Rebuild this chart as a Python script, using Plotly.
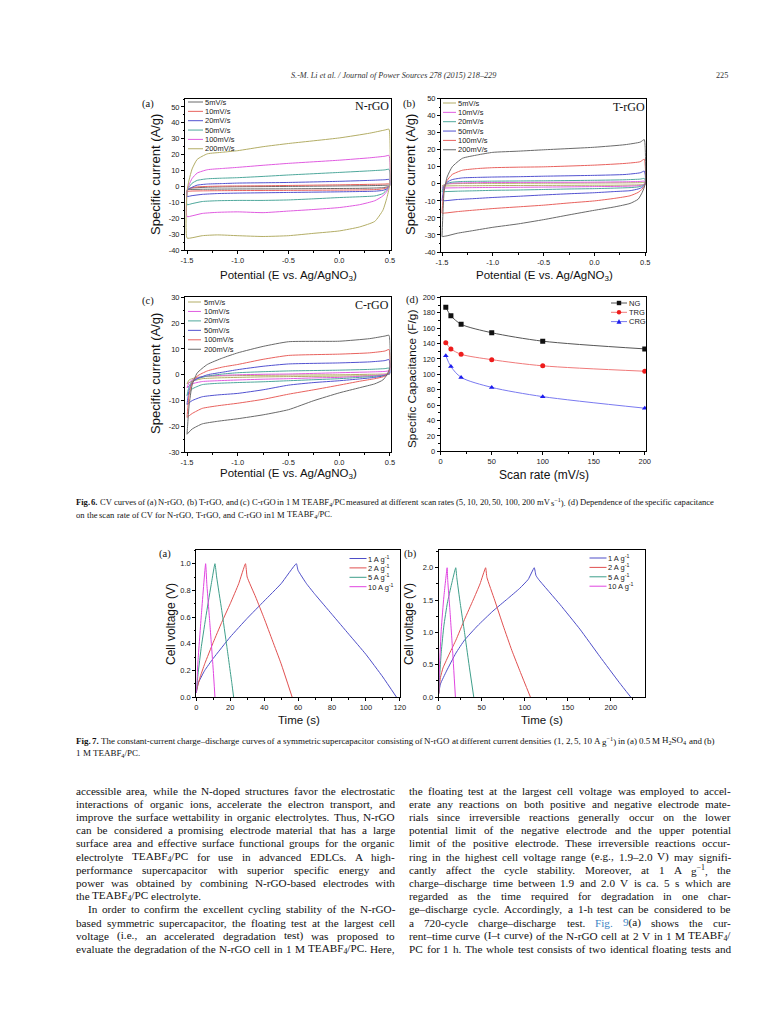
import re
import plotly.graph_objects as go

W, H = 768, 1024

# ---------------- Fig. 6 (a)-(c): CV curves ----------------
E_UP = [-1.5, -1.48, -1.45, -1.4, -1.3, -1.15, -1.0, -0.75, -0.5, 0.0, 0.3, 0.45, 0.49, 0.5]
E_DN = [0.5, 0.47, 0.43, 0.35, 0.2, 0.0, -0.25, -0.5, -0.75, -1.0, -1.2, -1.35, -1.45, -1.5]
RATE_LABELS = ["5mV/s", "10mV/s", "20mV/s", "50mV/s", "100mV/s", "200mV/s"]

NRGO_UP = [
    [-2, -1.5, -1, -0.8, -0.5, -0.3, -0.2, -0.1, 0, 0.3, 0.5, 0.7, 0.8, 0.5],
    [-2.5, -1.5, -0.8, -0.3, 0, 0.2, 0.3, 0.4, 0.6, 1.0, 1.3, 1.5, 1.6, 1.0],
    [-3, -1.5, -0.5, 0.8, 1.5, 1.8, 2.1, 2.3, 2.5, 3.2, 3.8, 4.2, 4.4, 3.0],
    [-3, -0.5, 2, 3.8, 4.8, 5.2, 5.5, 6.3, 7.2, 8.8, 9.8, 10.4, 10.8, 8],
    [-3, 1, 5, 8.4, 10.5, 11.3, 12, 13.3, 14.5, 16.5, 18, 19, 19.5, 15],
    [-3, 4, 11, 17, 20.5, 21.5, 22.5, 25, 27, 30.5, 33.5, 35.5, 36, 28],
]
NRGO_DN = [
    [0.3, -0.3, -0.8, -1.0, -1.2, -1.3, -1.4, -1.5, -1.55, -1.6, -1.7, -1.8, -1.9, -2],
    [0.5, -0.8, -1.5, -2, -2.2, -2.3, -2.4, -2.5, -2.55, -2.6, -2.7, -2.8, -2.9, -3],
    [1, -1.5, -2.5, -3, -3.2, -3.4, -3.6, -3.8, -4.0, -4.2, -4.5, -5, -5.8, -6.3],
    [1, -2, -4.5, -6, -6.5, -7, -7.8, -8.5, -8.8, -8.8, -9, -9.5, -10.8, -11.5],
    [1.5, -3, -6, -9, -11.5, -13.3, -14.5, -15.5, -16.5, -16, -16.3, -17, -18.5, -19],
    [2, -7, -15, -22, -25.5, -28, -29.5, -31, -31.5, -31, -30.5, -31, -32.3, -32.5],
]
TRGO_UP = [
    [-1.3, -0.5, -0.1, 0.1, 0.2, 0.3, 0.3, 0.35, 0.4, 0.5, 0.6, 0.7, 0.8, 0.5],
    [-2.5, -0.8, 0, 0.4, 0.6, 0.7, 0.8, 0.85, 0.9, 1.0, 1.2, 1.4, 1.6, 1],
    [-4.5, -1, 0.3, 1, 1.4, 1.5, 1.6, 1.7, 1.8, 2.1, 2.4, 2.8, 3.2, 2],
    [-10, -2, 1, 2.5, 3.5, 3.8, 4, 4.2, 4.5, 5, 5.5, 6.5, 7.5, 5],
    [-17, -3, 2, 5.5, 8, 9, 9.5, 9.8, 10, 11, 12, 13, 14.5, 10],
    [-31, -5, 4, 10, 15, 17, 18.5, 19.2, 20, 21.5, 23, 24.5, 26, 20],
]
TRGO_DN = [
    [0, -0.4, -0.6, -0.7, -0.8, -0.8, -0.85, -0.9, -0.95, -1.0, -1.1, -1.1, -1.2, -1.3],
    [0, -0.8, -1.1, -1.3, -1.5, -1.6, -1.75, -1.9, -2.0, -2.1, -2.2, -2.3, -2.4, -2.5],
    [0, -1.2, -1.8, -2.2, -2.5, -2.8, -3.0, -3.3, -3.6, -3.8, -4.1, -4.3, -4.5, -4.6],
    [0, -2, -3, -4, -4.5, -5.2, -5.8, -6.5, -7.3, -8, -8.7, -9.2, -9.8, -10],
    [0, -3, -5, -7, -8.5, -10, -11.2, -12.5, -13.5, -14.5, -15.5, -16.3, -17, -17.2],
    [0, -5, -9, -11.5, -13.5, -15.5, -18.2, -21, -23.5, -25.5, -27.5, -29, -30.5, -31],
]
CRGO_UP = [
    [-3.5, -2, -1.5, -1, -0.6, -0.4, -0.3, -0.2, -0.1, 0, 0.2, 0.3, 0.5, 0.3],
    [-5, -3, -2, -1.2, -0.5, -0.2, 0, 0.2, 0.3, 0.8, 1.1, 1.3, 1.5, 1],
    [-8, -4.5, -2.5, -1.5, -0.5, 0.3, 0.8, 1.2, 1.5, 1.8, 2.1, 2.4, 2.6, 1.5],
    [-11.5, -6, -3, -1.5, 0, 1, 2, 3.3, 4.2, 4.6, 5, 5.5, 5.9, 4],
    [-16.5, -8, -3, -0.5, 1.5, 3, 4, 6, 7.5, 8, 8.5, 9.2, 9.8, 7],
    [-23, -12, -4, 0.7, 4, 6.5, 8.5, 11, 12.8, 13, 14, 15, 15.3, 12],
]
CRGO_DN = [
    [0.3, 0, -0.2, -0.3, -0.4, -0.5, -0.6, -0.7, -0.8, -1, -1.2, -1.5, -2.5, -3.5],
    [0.5, 0.2, 0, -0.3, -0.6, -1, -1.2, -1.5, -1.7, -2, -2.3, -2.6, -3.5, -5],
    [0.5, 0, -0.3, -0.6, -1, -1.5, -1.9, -2.3, -2.7, -3.0, -3.3, -3.8, -5.5, -8],
    [1, 0, -0.5, -1, -1.6, -2.3, -3, -4, -5.8, -7.2, -7.8, -8.5, -10, -11.5],
    [2, 0, -0.8, -1.5, -2.5, -4, -5.8, -7.5, -9.5, -11, -12, -13, -15, -16.5],
    [3, 0, -2, -3.5, -5, -7, -10, -13.5, -15.5, -17, -18, -19, -21, -23],
]

# ---------------- Fig. 6 (d): capacitance vs scan rate ----------------
SCAN_RATE = [5, 10, 20, 50, 100, 200]
CAP_NG = [187, 176, 165, 154, 143, 133]
CAP_TRG = [141, 133, 126, 119, 111, 104]
CAP_CRG = [124, 110, 96, 83, 71, 56]
CAP_NAMES = ["NG", "TRG", "CRG"]

# ---------------- Fig. 7: charge-discharge ----------------
CD_LABELS = ["1 A g<sup>-1</sup>", "2 A g<sup>-1</sup>", "5 A g<sup>-1</sup>", "10 A g<sup>-1</sup>"]
A_T1 = [0, 1, 5, 10, 20, 30, 40, 50, 59, 60, 65, 70, 80, 90, 100, 110, 118]
A_V1 = [0.03, 0.1, 0.2, 0.29, 0.45, 0.59, 0.72, 0.85, 1.0, 0.95, 0.85, 0.77, 0.62, 0.47, 0.32, 0.15, 0.0]
A_T2 = [0, 2, 5, 10, 15, 20, 25, 29, 30, 35, 40, 45, 50, 56.5]
A_V2 = [0.04, 0.14, 0.25, 0.41, 0.56, 0.7, 0.85, 1.0, 0.9, 0.75, 0.59, 0.42, 0.25, 0.0]
A_T5 = [0, 1, 3, 6, 9, 11, 12, 15, 18, 21, 22]
A_V5 = [0.03, 0.17, 0.38, 0.63, 0.86, 1.0, 0.9, 0.65, 0.38, 0.1, 0.0]
A_T10 = [0, 1, 3, 5.5, 6.2, 8, 10, 11]
A_V10 = [0.03, 0.27, 0.62, 1.0, 0.85, 0.55, 0.2, 0.0]

B_T1 = [0, 2, 9, 20, 30, 45, 63, 80, 94, 104, 111, 113, 116, 141, 164, 187, 210, 223]
B_V1 = [0.05, 0.2, 0.4, 0.68, 0.88, 1.1, 1.33, 1.52, 1.68, 1.82, 2.0, 1.88, 1.82, 1.43, 1.05, 0.63, 0.22, 0.0]
B_T2 = [0, 2, 5, 12.8, 20, 30, 40, 48, 54.5, 56, 65, 75, 85, 95, 106.5]
B_V2 = [0.05, 0.3, 0.45, 0.68, 0.88, 1.2, 1.5, 1.75, 2.0, 1.85, 1.5, 1.1, 0.72, 0.38, 0.0]
B_T5 = [0, 1, 3, 6, 10, 15, 19.8, 21, 25, 30, 35, 40.7]
B_V5 = [0.05, 0.3, 0.7, 1.1, 1.45, 1.75, 2.0, 1.85, 1.45, 1.0, 0.52, 0.0]
B_T10 = [0, 1, 3, 6, 9.8, 10.5, 13, 16, 19.4]
B_V10 = [0.05, 0.5, 1.05, 1.55, 2.0, 1.8, 1.35, 0.75, 0.0]

# ---------------- tick labels ----------------
CV_X_TICKS = [-1.5, -1.0, -0.5, 0.0, 0.5]
CV_X_TEXT = ["-1.5", "-1.0", "-0.5", "0.0", "0.5"]
AB_Y_TICKS = [-40, -30, -20, -10, 0, 10, 20, 30, 40, 50]
AB_Y_TEXT = ["-40", "-30", "-20", "-10", "0", "10", "20", "30", "40", "50"]
C_Y_TICKS = [-30, -20, -10, 0, 10, 20, 30]
C_Y_TEXT = ["-30", "-20", "-10", "0", "10", "20", "30"]
D_X_TICKS = [0, 50, 100, 150, 200]
D_Y_TICKS = [0, 20, 40, 60, 80, 100, 120, 140, 160, 180, 200]
F7A_X_TICKS = [0, 20, 40, 60, 80, 100, 120]
F7A_Y_TICKS = [0.0, 0.2, 0.4, 0.6, 0.8, 1.0]
F7A_Y_TEXT = ["0.0", "0.2", "0.4", "0.6", "0.8", "1.0"]
F7B_X_TICKS = [0, 50, 100, 150, 200]
F7B_Y_TICKS = [0.0, 0.5, 1.0, 1.5, 2.0]
F7B_Y_TEXT = ["0.0", "0.5", "1.0", "1.5", "2.0"]

# ---------------- colours ----------------
GRAY, RED, BLUE, TEAL, MAG, OLIVE = "#6a6a6a", "#e8625e", "#5252d0", "#4fa89c", "#e05ce0", "#b3ad66"
NRGO_COLORS = [GRAY, RED, BLUE, TEAL, MAG, OLIVE]
TRGO_COLORS = [OLIVE, MAG, TEAL, BLUE, RED, GRAY]
CD_COLORS = ["#4e4ec8", "#e05050", "#3e9e8a", "#e044e0"]

SANS = "Liberation Sans"
SERIF = "Liberation Serif"

fig = go.Figure()

# panel frames in page pixels: (x_left, x_right, y_top, y_bottom), ranges
PANELS = [
    dict(px=(177, 382.5, 91, 242), xr=[-1.52, 0.505], yr=[-40, 55],
         xt=(CV_X_TICKS, CV_X_TEXT), yt=(AB_Y_TICKS, AB_Y_TEXT), xm=0.25, ym=5),
    dict(px=(433, 638, 90.7, 244), xr=[-1.51, 0.507], yr=[-40, 50],
         xt=(CV_X_TICKS, CV_X_TEXT), yt=(AB_Y_TICKS, AB_Y_TEXT), xm=0.25, ym=5),
    dict(px=(177, 382.5, 289.3, 444.3), xr=[-1.52, 0.505], yr=[-30, 30],
         xt=(CV_X_TICKS, CV_X_TEXT), yt=(C_Y_TICKS, C_Y_TEXT), xm=0.25, ym=5),
    dict(px=(432.7, 638.3, 289.3, 443.3), xr=[0, 201.5], yr=[0, 200],
         xt=(D_X_TICKS, None), yt=(D_Y_TICKS, None), xm=25, ym=10),
    dict(px=(188.3, 392.3, 541.7, 689), xr=[0, 120.3], yr=[0, 1.105],
         xt=(F7A_X_TICKS, None), yt=(F7A_Y_TICKS, F7A_Y_TEXT), xm=10, ym=0.1),
    dict(px=(430.7, 637.3, 542.3, 689), xr=[0, 240], yr=[0, 2.27],
         xt=(F7B_X_TICKS, None), yt=(F7B_Y_TICKS, F7B_Y_TEXT), xm=25, ym=0.25),
]

def px2x(x):
    return x / W

def px2y(y):
    return 1 - y / H

axis_style = dict(showline=True, linecolor="black", linewidth=1, mirror=True,
                  ticks="outside", ticklen=3, tickwidth=1, tickcolor="black",
                  showgrid=False, zeroline=False, automargin=False,
                  tickfont=dict(family=SANS, size=7.5, color="#222"))

lay = {}
for i, p in enumerate(PANELS, start=1):
    x0, x1, yt_, yb = p["px"]
    sx = "" if i == 1 else str(i)
    xt_vals, xt_text = p["xt"]
    yt_vals, yt_text = p["yt"]
    xa = dict(axis_style, domain=[px2x(x0), px2x(x1)], range=p["xr"], anchor="y" + sx,
              tickmode="array", tickvals=xt_vals,
              minor=dict(ticks="outside", ticklen=1.5, tickcolor="black", dtick=p["xm"], tick0=0))
    if xt_text:
        xa["ticktext"] = xt_text
    ya = dict(axis_style, domain=[px2y(yb), px2y(yt_)], range=p["yr"], anchor="x" + sx,
              tickmode="array", tickvals=yt_vals,
              minor=dict(ticks="outside", ticklen=1.5, tickcolor="black", dtick=p["ym"], tick0=0))
    if yt_text:
        ya["ticktext"] = yt_text
    lay["xaxis" + sx] = xa
    lay["yaxis" + sx] = ya

def add_cv(ups, dns, colors, ax):
    for up, dn, c, name in zip(ups, dns, colors, RATE_LABELS):
        fig.add_trace(go.Scatter(
            x=E_UP + E_DN + [E_UP[0]], y=up + dn + [up[0]], mode="lines", name=name,
            line=dict(color=c, width=1, shape="spline", smoothing=0.5),
            xaxis="x" + ax, yaxis="y" + ax, showlegend=False))

add_cv(NRGO_UP, NRGO_DN, NRGO_COLORS, "")
add_cv(TRGO_UP, TRGO_DN, TRGO_COLORS, "2")
add_cv(CRGO_UP, CRGO_DN, TRGO_COLORS, "3")

CAP_SERIES = [CAP_NG, CAP_TRG, CAP_CRG]
CAP_LINE = ["#555555", "#f07a7a", "#7a7af0"]
CAP_MARK = ["#111111", "#ee1c1c", "#1c1cee"]
CAP_SYM = ["square", "circle", "triangle-up"]
for ys, lc, mc, sym, nm in zip(CAP_SERIES, CAP_LINE, CAP_MARK, CAP_SYM, CAP_NAMES):
    fig.add_trace(go.Scatter(x=SCAN_RATE, y=ys, mode="lines+markers", name=nm,
                             line=dict(color=lc, width=1, shape="spline", smoothing=0.8),
                             marker=dict(symbol=sym, size=5, color=mc),
                             xaxis="x4", yaxis="y4", showlegend=False))

for ts, vs, c, nm, ax in [
    (A_T1, A_V1, CD_COLORS[0], CD_LABELS[0], "5"), (A_T2, A_V2, CD_COLORS[1], CD_LABELS[1], "5"),
    (A_T5, A_V5, CD_COLORS[2], CD_LABELS[2], "5"), (A_T10, A_V10, CD_COLORS[3], CD_LABELS[3], "5"),
    (B_T1, B_V1, CD_COLORS[0], CD_LABELS[0], "6"), (B_T2, B_V2, CD_COLORS[1], CD_LABELS[1], "6"),
    (B_T5, B_V5, CD_COLORS[2], CD_LABELS[2], "6"), (B_T10, B_V10, CD_COLORS[3], CD_LABELS[3], "6"),
]:
    fig.add_trace(go.Scatter(x=ts, y=vs, mode="lines", name=nm,
                             line=dict(color=c, width=1, shape="spline", smoothing=0.4),
                             xaxis="x" + ax, yaxis="y" + ax, showlegend=False))

annotations = []
shapes = []

def text(x, y, s, size, family=SANS, xanchor="center", yanchor="middle", angle=0, color="#111"):
    annotations.append(dict(x=px2x(x), y=px2y(y), xref="paper", yref="paper", text=s,
                            showarrow=False, xanchor=xanchor, yanchor=yanchor, textangle=angle,
                            borderpad=0, borderwidth=0,
                            font=dict(family=family, size=size, color=color)))

def legend(names, colors, xl0, xl1, xt, y0, dy, syms=None, mcolors=None, size=7.5):
    for k, (nm, c) in enumerate(zip(names, colors)):
        y = y0 + k * dy
        shapes.append(dict(type="line", xref="paper", yref="paper", x0=px2x(xl0), x1=px2x(xl1),
                           y0=px2y(y), y1=px2y(y), line=dict(color=c, width=1)))
        if syms:
            xc = (xl0 + xl1) / 2
            r = 2.2
            mc = mcolors[k]
            if syms[k] == "square":
                shapes.append(dict(type="rect", xref="paper", yref="paper", x0=px2x(xc - r), x1=px2x(xc + r),
                                   y0=px2y(y + r), y1=px2y(y - r), fillcolor=mc, line=dict(width=0)))
            elif syms[k] == "circle":
                shapes.append(dict(type="circle", xref="paper", yref="paper", x0=px2x(xc - r), x1=px2x(xc + r),
                                   y0=px2y(y + r), y1=px2y(y - r), fillcolor=mc, line=dict(width=0)))
            else:
                path = "M {} {} L {} {} L {} {} Z".format(px2x(xc - r - 0.3), px2y(y + r), px2x(xc + r + 0.3),
                                                          px2y(y + r), px2x(xc), px2y(y - r - 0.5))
                shapes.append(dict(type="path", xref="paper", yref="paper", path=path, fillcolor=mc,
                                   line=dict(width=0)))
        text(xt, y, nm, size, xanchor="left", color="#222")

legend(RATE_LABELS, NRGO_COLORS, 180, 195, 196.5, 94, 9.35)
legend(RATE_LABELS, TRGO_COLORS, 435, 448, 450, 95, 9.35)
legend(RATE_LABELS, TRGO_COLORS, 180, 193, 195.5, 294, 9.45)
legend(CAP_NAMES, CAP_LINE, 603, 619, 621, 295, 9.3, syms=CAP_SYM, mcolors=CAP_MARK)
legend(CD_LABELS, CD_COLORS, 341.5, 358.5, 360, 550.5, 9.4)
legend(CD_LABELS, CD_COLORS, 581.5, 598.5, 600, 550, 9.4)

# panel labels and sample names
text(140, 96, "(a)", 10.5, SERIF)
text(401, 96, "(b)", 10.5, SERIF)
text(140, 293, "(c)", 10.5, SERIF)
text(404, 292, "(d)", 10.5, SERIF)
text(157, 546, "(a)", 10.5, SERIF)
text(402, 546, "(b)", 10.5, SERIF)
text(381, 98, "N-rGO", 12, SERIF, xanchor="right")
text(637, 99, "T-rGO", 12, SERIF, xanchor="right")
text(381, 297, "C-rGO", 12, SERIF, xanchor="right")

# axis titles
POT = "Potential (E vs. Ag/AgNO<sub>3</sub>)"
text(147, 167, "Specific current (A/g)", 13, angle=-90)
text(280, 268, POT, 11.5)
text(402, 167, "Specific current (A/g)", 13, angle=-90)
text(536, 268, POT, 11.5)
text(147, 366, "Specific current (A/g)", 13, angle=-90)
text(280, 466, POT, 11.5)
text(404, 371, "Specific Capacitance (F/g)", 11.8, angle=-90)
text(536, 467, "Scan rate (mV/s)", 12)
text(163, 616, "Cell voltage (V)", 12, angle=-90)
text(291, 712, "Time (s)", 11.5)
text(401, 616, "Cell voltage (V)", 12, angle=-90)
text(534, 712, "Time (s)", 11.5)

# ---------------- page text ----------------
TIMES_W = {
    " ": 250, "!": 333, '"': 408, "#": 500, "$": 500, "%": 833, "&": 778, "'": 180, "(": 333, ")": 333,
    "*": 500, "+": 564, ",": 250, "-": 333, ".": 250, "/": 278, ":": 278, ";": 278, "<": 564, "=": 564,
    ">": 564, "?": 444, "@": 921, "[": 333, "]": 333, "–": 500, "−": 564,
    "A": 722, "B": 667, "C": 667, "D": 722, "E": 611, "F": 556, "G": 722, "H": 722, "I": 333, "J": 389,
    "K": 722, "L": 611, "M": 889, "N": 722, "O": 722, "P": 556, "Q": 722, "R": 667, "S": 556, "T": 611,
    "U": 722, "V": 722, "W": 944, "X": 722, "Y": 722, "Z": 611,
    "a": 444, "b": 500, "c": 444, "d": 500, "e": 444, "f": 333, "g": 500, "h": 500, "i": 278, "j": 278,
    "k": 500, "l": 278, "m": 778, "n": 500, "o": 500, "p": 500, "q": 500, "r": 333, "s": 389, "t": 278,
    "u": 500, "v": 500, "w": 722, "x": 500, "y": 500, "z": 444,
}
TAG_RE = re.compile(r"(<sub>.*?</sub>|<sup>.*?</sup>|<[^>]+>)")

def plain_em(s):
    return sum(TIMES_W.get(ch, 500) for ch in s) / 1000.0

def html_em(s):
    tot = 0.0
    for part in TAG_RE.split(s):
        if not part:
            continue
        if part.startswith("<sub>") or part.startswith("<sup>"):
            tot += 0.7 * plain_em(re.sub(r"<[^>]+>", "", part))
        elif part.startswith("<"):
            continue
        else:
            tot += plain_em(part)
    return tot

def split_words(line):
    return re.split(r" (?![^<]*>)", line)

def fit_size(line, width, max_size, min_gap_em=0.22):
    words = split_words(line)
    em = sum(html_em(w) for w in words) + (len(words) - 1) * min_gap_em
    return min(max_size, width / em)

def set_line(line, x0, x1, y, size, justify=True, color="#1a1a1a"):
    words = split_words(line)
    ems = [html_em(w) for w in words]
    natural = sum(ems) * size
    if justify and len(words) > 1:
        gap = (x1 - x0 - natural) / (len(words) - 1)
    else:
        gap = 0.25 * size
    x = x0
    for w, e in zip(words, ems):
        text(x, y, w, size, SERIF, xanchor="left", color=color)
        x += e * size + gap

# running header
text(385, 67, "<i>S.-M. Li et al. / Journal of Power Sources 278 (2015) 218–229</i>", 8.2, SERIF, color="#333")
text(720, 67, "225", 8.2, SERIF, xanchor="right", color="#333")

CAP6 = [
    "<b>Fig.</b> <b>6.</b> CV curves of (a) N-rGO, (b) T-rGO, and (c) C-rGO in 1 M TEABF<sub>4</sub>/PC measured at different scan rates (5, 10, 20, 50, 100, 200 mV s<sup>−1</sup>). (d) Dependence of the specific capacitance",
    "on the scan rate of CV for N-rGO, T-rGO, and C-rGO in1 M TEABF<sub>4</sub>/PC.",
]
CAP7 = [
    "<b>Fig.</b> <b>7.</b> The constant-current charge–discharge curves of a symmetric supercapacitor consisting of N-rGO at different current densities (1, 2, 5, 10 A g<sup>−1</sup>) in (a) 0.5 M H<sub>2</sub>SO<sub>4</sub> and (b)",
    "1 M TEABF<sub>4</sub>/PC.",
]
CAP_X0, CAP_X1 = 68, 706
cap6_size = fit_size(CAP6[0], CAP_X1 - CAP_X0, 9.0)
cap7_size = fit_size(CAP7[0], CAP_X1 - CAP_X0, 9.0)
set_line(CAP6[0], CAP_X0, CAP_X1, 494, cap6_size, color="#111")
set_line(CAP6[1], CAP_X0, CAP_X1, 506.5, cap6_size, justify=False, color="#111")
set_line(CAP7[0], CAP_X0, CAP_X1, 732.5, cap7_size, color="#111")
set_line(CAP7[1], CAP_X0, CAP_X1, 745, cap7_size, justify=False, color="#111")

BODY_LEFT = [
    "accessible area, while the N-doped structures favor the electrostatic",
    "interactions of organic ions, accelerate the electron transport, and",
    "improve the surface wettability in organic electrolytes. Thus, N-rGO",
    "can be considered a promising electrode material that has a large",
    "surface area and effective surface functional groups for the organic",
    "electrolyte TEABF<sub>4</sub>/PC for use in advanced EDLCs. A high-",
    "performance supercapacitor with superior specific energy and",
    "power was obtained by combining N-rGO-based electrodes with",
    "the TEABF<sub>4</sub>/PC electrolyte.",
    "In order to confirm the excellent cycling stability of the N-rGO-",
    "based symmetric supercapacitor, the floating test at the largest cell",
    "voltage (i.e., an accelerated degradation test) was proposed to",
    "evaluate the degradation of the N-rGO cell in 1 M TEABF<sub>4</sub>/PC. Here,",
]
BODY_RIGHT = [
    "the floating test at the largest cell voltage was employed to accel-",
    "erate any reactions on both positive and negative electrode mate-",
    "rials since irreversible reactions generally occur on the lower",
    "potential limit of the negative electrode and the upper potential",
    "limit of the positive electrode. These irreversible reactions occur-",
    "ring in the highest cell voltage range (e.g., 1.9–2.0 V) may signifi-",
    "cantly affect the cycle stability. Moreover, at 1 A g<sup>−1</sup>, the",
    "charge–discharge time between 1.9 and 2.0 V is ca. 5 s which are",
    "regarded as the time required for degradation in one char-",
    "ge–discharge cycle. Accordingly, a 1-h test can be considered to be",
    "a 720-cycle charge–discharge test. <span style='color:#3b83c4'>Fig.</span> <span style='color:#3b83c4'>9</span>(a) shows the cur-",
    "rent–time curve (I–t curve) of the N-rGO cell at 2 V in 1 M TEABF<sub>4</sub>/",
    "PC for 1 h. The whole test consists of two identical floating tests and",
]
BODY_SIZE = 11.2
BODY_Y0, BODY_DY = 782.5, 13.2
for k, ln in enumerate(BODY_LEFT):
    indent = 12 if k == 9 else 0
    set_line(ln, 68 + indent, 387, BODY_Y0 + k * BODY_DY, BODY_SIZE, justify=(k != 8), color="#111")
for k, ln in enumerate(BODY_RIGHT):
    set_line(ln, 401, 723, BODY_Y0 + k * BODY_DY, BODY_SIZE, color="#111")

fig.update_layout(width=W, height=H, margin=dict(l=0, r=0, t=0, b=0),
                  paper_bgcolor="white", plot_bgcolor="white", showlegend=False,
                  annotations=annotations, shapes=shapes, **lay)

fig.write_html("out.html")
